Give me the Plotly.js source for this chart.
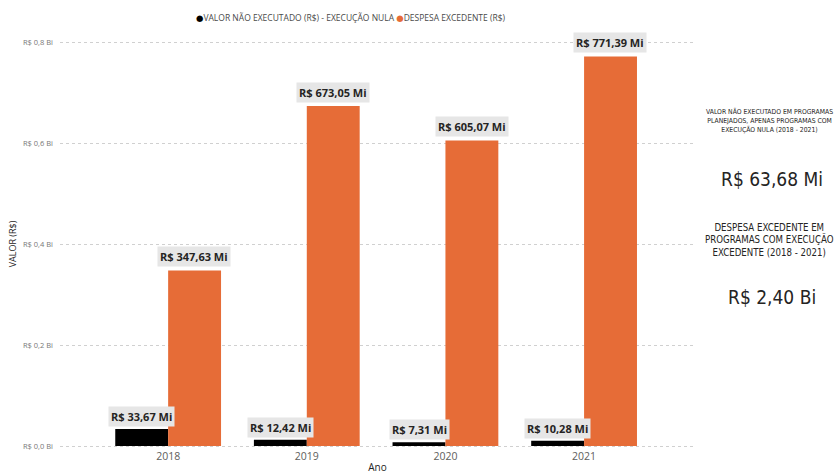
<!DOCTYPE html>
<html>
<head>
<meta charset="utf-8">
<script src="https://cdn.plot.ly/plotly-3.0.1.min.js"></script>
<style>html,body{margin:0;padding:0;background:#fff;}#chart{width:838px;height:474px;}</style>
</head>
<body>
<div id="chart"></div>
<script>
// Data (values in R$ millions)
const years = ['2018', '2019', '2020', '2021'];
const valorNaoExecutado = [33.67, 12.42, 7.31, 10.28];
const despesaExcedente = [347.63, 673.05, 605.07, 771.39];
const tickVals = [0, 200, 400, 600, 800];
const tickLabels = ['R$ 0,0 Bi', 'R$ 0,2 Bi', 'R$ 0,4 Bi', 'R$ 0,6 Bi', 'R$ 0,8 Bi'];
const seriesNames = ['VALOR NÃO EXECUTADO (R$) - EXECUÇÃO NULA', 'DESPESA EXCEDENTE (R$)'];
const totalNaoExecutado = 'R$ 63,68 Mi';
const totalExcedente = 'R$ 2,40 Bi';

const BLACK = '#000000';
const ORANGE = '#E66C37';
const fmt = v => 'R$ ' + v.toFixed(2).replace('.', ',') + ' Mi';

const traces = [
  {type: 'bar', x: years, y: valorNaoExecutado, name: seriesNames[0], marker: {color: BLACK}, showlegend: false, hoverinfo: 'none'},
  {type: 'bar', x: years, y: despesaExcedente, name: seriesNames[1], marker: {color: ORANGE}, showlegend: false, hoverinfo: 'none'}
];

const labelFont = {family: 'Open Sans, DejaVu Sans, sans-serif', size: 11, color: '#252423'};
const annotations = [];
const off = 0.19;
years.forEach((y, i) => {
  annotations.push({xref: 'x', yref: 'y', x: i - off, y: valorNaoExecutado[i], text: '<b>' + fmt(valorNaoExecutado[i]) + '</b>',
    showarrow: false, yanchor: 'bottom', yshift: 2, bgcolor: '#E6E6E6', borderpad: 2, font: labelFont});
  annotations.push({xref: 'x', yref: 'y', x: i + off, y: despesaExcedente[i], text: '<b>' + fmt(despesaExcedente[i]) + '</b>',
    showarrow: false, yanchor: 'bottom', yshift: 3, bgcolor: '#E6E6E6', borderpad: 2, font: labelFont});
});

// plot area in pixels
const PL = 60, PR = 695, PT = 40, PB = 448;
const px = xp => (xp - PL) / (PR - PL);
const py = yp => (PB - yp) / (PB - PT);

// legend row
annotations.push({xref: 'paper', yref: 'paper', x: px(351), y: py(18), xanchor: 'center', yanchor: 'middle', showarrow: false,
  text: '<span style="color:' + BLACK + '">●</span>' + seriesNames[0] + ' <span style="color:' + ORANGE + '">●</span>' + seriesNames[1],
  font: {family: 'Open Sans, DejaVu Sans, sans-serif', size: 8.5, color: '#4A4A4A'}});

// right cards
const cardFont = 'DejaVu Sans Condensed, Liberation Sans Narrow, Roboto, sans-serif';
annotations.push({xref: 'paper', yref: 'paper', x: px(769), y: py(121), xanchor: 'center', yanchor: 'middle', showarrow: false,
  text: 'VALOR NÃO EXECUTADO EM PROGRAMAS<br>PLANEJADOS, APENAS PROGRAMAS COM<br>EXECUÇÃO NULA (2018 - 2021)',
  font: {family: cardFont, size: 6.8, color: '#252423'}});
annotations.push({xref: 'paper', yref: 'paper', x: px(772), y: py(179), xanchor: 'center', yanchor: 'middle', showarrow: false,
  text: totalNaoExecutado, font: {family: cardFont, size: 19, color: '#252423'}});
annotations.push({xref: 'paper', yref: 'paper', x: px(769), y: py(240), xanchor: 'center', yanchor: 'middle', showarrow: false,
  text: 'DESPESA EXCEDENTE EM<br>PROGRAMAS COM EXECUÇÃO<br>EXCEDENTE (2018 - 2021)',
  font: {family: cardFont, size: 9.6, color: '#252423'}});
annotations.push({xref: 'paper', yref: 'paper', x: px(772), y: py(297), xanchor: 'center', yanchor: 'middle', showarrow: false,
  text: totalExcedente, font: {family: cardFont, size: 19, color: '#252423'}});

const layout = {
  width: 838, height: 474,
  margin: {l: PL, r: 838 - PR, t: PT, b: 474 - PB},
  paper_bgcolor: '#ffffff', plot_bgcolor: '#ffffff',
  barmode: 'group', bargap: 0.237, bargroupgap: 0,
  showlegend: false,
  xaxis: {type: 'category', range: [-0.78, 3.8], showgrid: false, zeroline: false, showline: false,
    ticks: '', tickfont: {family: 'Open Sans, DejaVu Sans, sans-serif', size: 10.5, color: '#605E5C'},
    title: {text: 'Ano', font: {family: 'Open Sans, DejaVu Sans, sans-serif', size: 10, color: '#252423'}, standoff: 4}},
  yaxis: {range: [-3.96, 803.96], tickvals: tickVals, ticktext: tickLabels, showgrid: true, gridcolor: '#D0D0D0', griddash: 'dot',
    gridwidth: 1, zeroline: false, showline: false, ticks: '', ticklabelstandoff: 6,
    tickfont: {family: 'Open Sans, DejaVu Sans, sans-serif', size: 7.5, color: '#777777'},
    title: {text: 'VALOR (R$)', font: {family: 'Open Sans, DejaVu Sans, sans-serif', size: 9, color: '#252423'}, standoff: 4}},
  annotations: annotations
};

Plotly.newPlot('chart', traces, layout, {displayModeBar: false, staticPlot: true});
</script>
</body>
</html>
